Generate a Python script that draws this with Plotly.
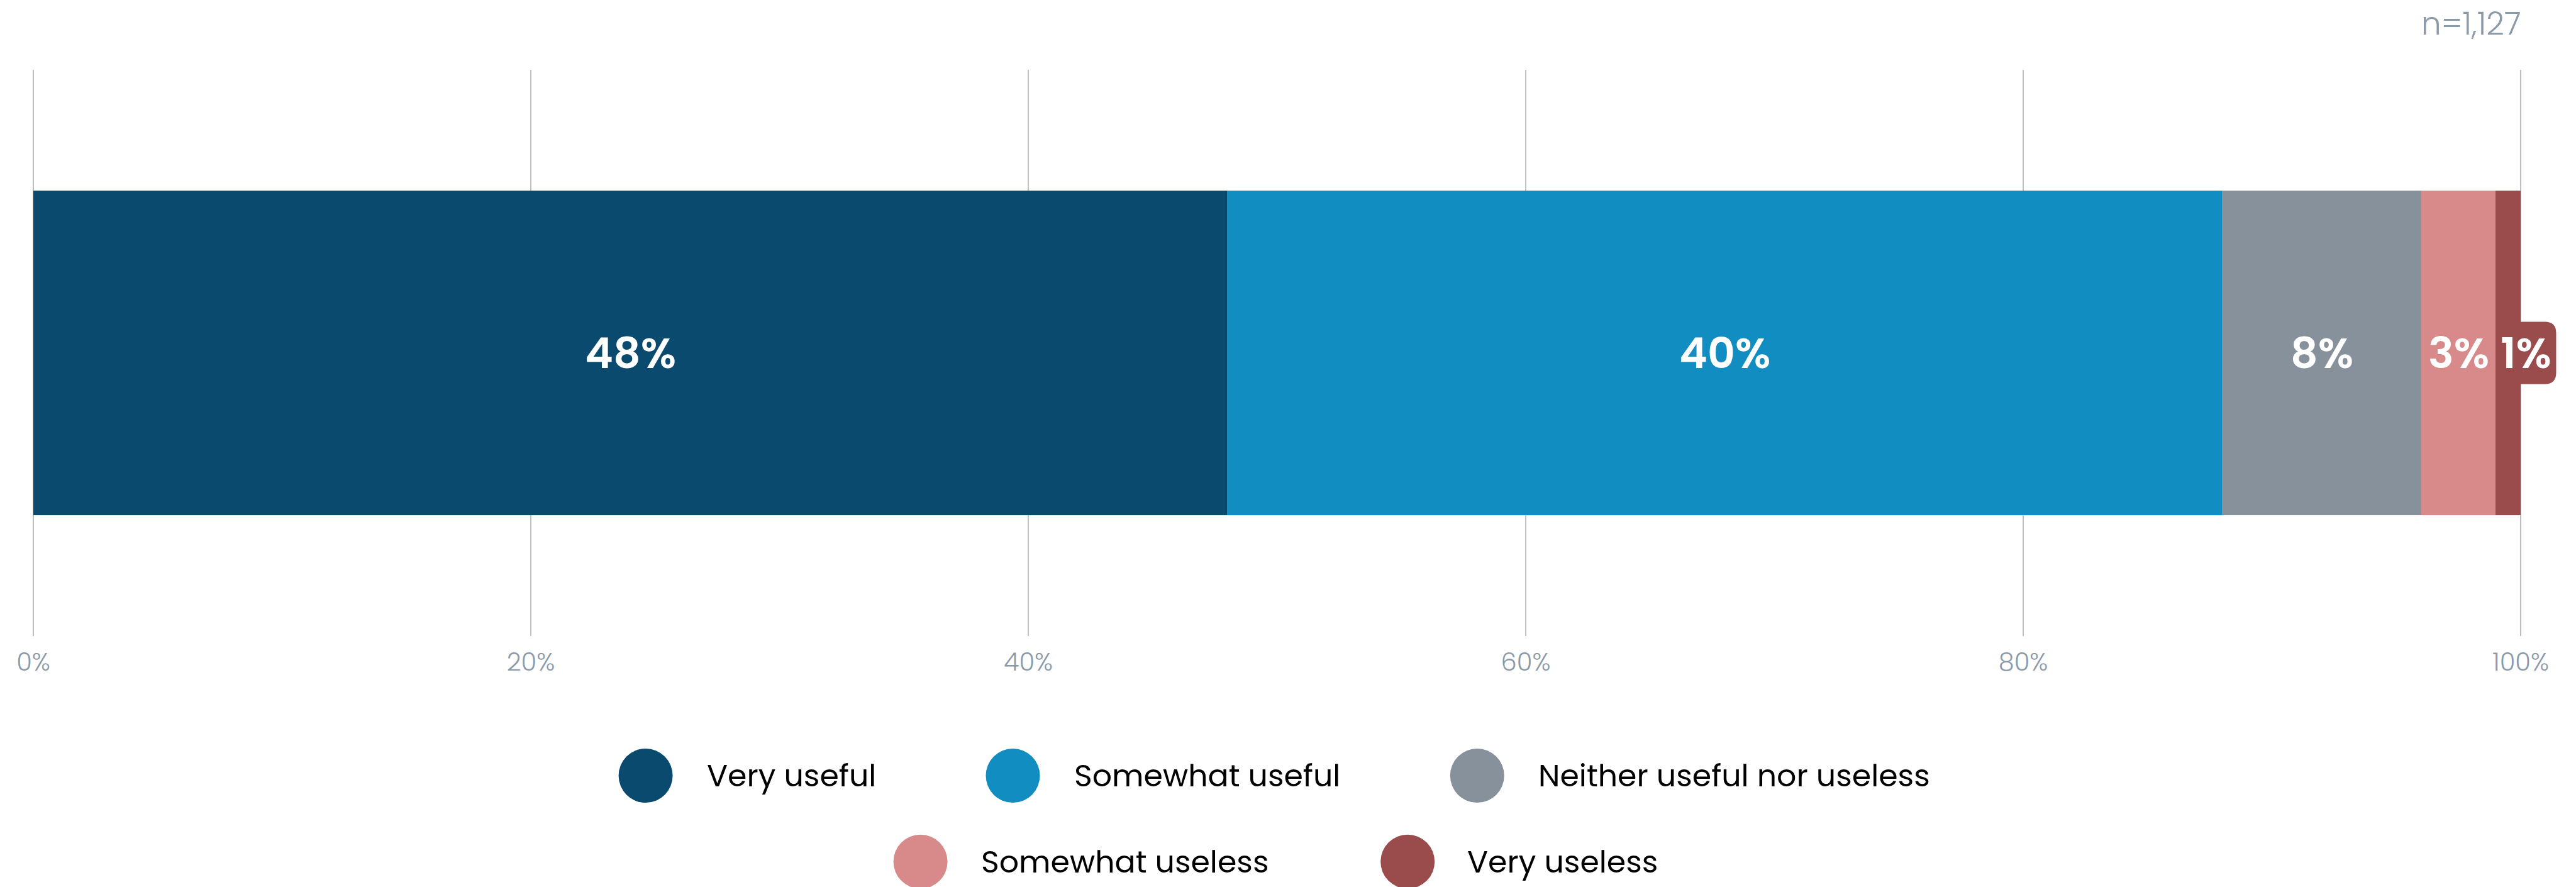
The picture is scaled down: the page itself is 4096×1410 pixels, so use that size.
import plotly.graph_objects as go

# Survey responses (share of respondents, %)
categories = ["Very useful", "Somewhat useful", "Neither useful nor useless",
              "Somewhat useless", "Very useless"]
values = [48, 40, 8, 3, 1]
colors = ["#0b4a6f", "#118dc1", "#87919b", "#d78a89", "#9a4b4b"]
tick_vals = [0, 20, 40, 60, 80, 100]
tick_text = ["0%", "20%", "40%", "60%", "80%", "100%"]
sample_note = "n=1,127"

# Canvas and plot-area geometry (pixels)
W, H = 4096, 1410
ML, MR, MT, MB = 53, 88, 111, 399
PW, PH = W - ML - MR, H - MT - MB
FONT = "Poppins, Inter, sans-serif"
GRID = "#c0c0c0"


def px_x(px):
    """Horizontal pixel position -> paper coordinate."""
    return (px - ML) / PW


def px_y(py):
    """Vertical pixel position (from top) -> paper coordinate."""
    return (H - MB - py) / PH


fig = go.Figure()

# One stacked horizontal bar
for name, val, col in zip(categories, values, colors):
    fig.add_trace(go.Bar(
        x=[val], y=[0], width=[0.573], orientation="h", name=name,
        marker=dict(color=col, line=dict(width=0)),
        hoverinfo="skip",
    ))

# Segment value labels
starts = []
acc = 0
for v in values:
    starts.append(acc)
    acc += v

annotations = []
shapes = []

# Gridlines at the two ends of the axis (interior ones come from the axis)
for tv in (tick_vals[0], tick_vals[-1]):
    shapes.append(dict(
        type="line", xref="paper", yref="paper", x0=tv / 100, x1=tv / 100,
        y0=0, y1=1, line=dict(color=GRID, width=2), layer="below",
    ))

label_font = dict(family=FONT, size=68, color="white", weight=600)
for i, (s, v) in enumerate(zip(starts, values)):
    if i < len(values) - 1:
        annotations.append(dict(
            x=s + v / 2, y=0, xref="x", yref="y", text=f"{v}%",
            showarrow=False, xanchor="center", yanchor="middle", font=label_font,
        ))

# The narrow last segment carries its label in a rounded tab
box_w, box_h, rad = 96, 99, 18
hh = box_h / 2
tab_path = (f"M 0,{-hh} L {box_w - rad},{-hh} Q {box_w},{-hh} {box_w},{-hh + rad} "
            f"L {box_w},{hh - rad} Q {box_w},{hh} {box_w - rad},{hh} L 0,{hh} Z")
last_start = starts[-1]
shapes.append(dict(
    type="path", xref="paper", yref="paper",
    xsizemode="pixel", ysizemode="pixel",
    xanchor=last_start / 100, yanchor=0.5,
    path=tab_path, fillcolor=colors[-1], line=dict(width=0), layer="above",
))
annotations.append(dict(
    x=last_start / 100, y=0.5, xref="paper", yref="paper", xshift=box_w / 2,
    text=f"{values[-1]}%", showarrow=False, xanchor="center", yanchor="middle",
    font=label_font,
))

# Sample size note
annotations.append(dict(
    x=px_x(4011), y=px_y(37), xref="paper", yref="paper", text=sample_note,
    showarrow=False, xanchor="right", yanchor="middle",
    font=dict(family=FONT, size=50, color="#8a9aa8", weight=300),
))

# Legend: two centred rows of circle swatches with labels
legend_rows = [
    (1233, [(1026.6, 1122.3), (1610.5, 1706.3), (2348.8, 2443.7)]),
    (1369.7, [(1463.6, 1558.4), (2238.2, 2331.2)]),
]
r_dot = 43
k = 0
for row_y, items in legend_rows:
    for cx, tx in items:
        shapes.append(dict(
            type="circle", xref="paper", yref="paper",
            xsizemode="pixel", ysizemode="pixel",
            xanchor=px_x(cx), yanchor=px_y(row_y),
            x0=-r_dot, x1=r_dot, y0=-r_dot, y1=r_dot,
            fillcolor=colors[k], line=dict(width=0),
        ))
        annotations.append(dict(
            x=px_x(tx), y=px_y(row_y), xref="paper", yref="paper",
            text=categories[k], showarrow=False, xanchor="left", yanchor="middle",
            font=dict(family=FONT, size=49, color="#000000", weight=400),
        ))
        k += 1

fig.update_layout(
    width=W, height=H,
    margin=dict(l=ML, r=MR, t=MT, b=MB, pad=0),
    barmode="stack",
    showlegend=False,
    plot_bgcolor="white", paper_bgcolor="white",
    hovermode=False,
    annotations=annotations,
    shapes=shapes,
    xaxis=dict(
        range=[0, 100], tickvals=tick_vals, ticktext=tick_text,
        showgrid=True, gridcolor=GRID, gridwidth=2,
        zeroline=False, showline=False, ticks="",
        ticklabelstandoff=14,
        tickfont=dict(family=FONT, size=40, color="#8a9aa8", weight=300),
        fixedrange=True,
    ),
    yaxis=dict(
        range=[-0.5, 0.5], showgrid=False, zeroline=False, showline=False,
        showticklabels=False, ticks="", fixedrange=True,
    ),
)

fig.write_html("out.html", config=dict(displayModeBar=False))
